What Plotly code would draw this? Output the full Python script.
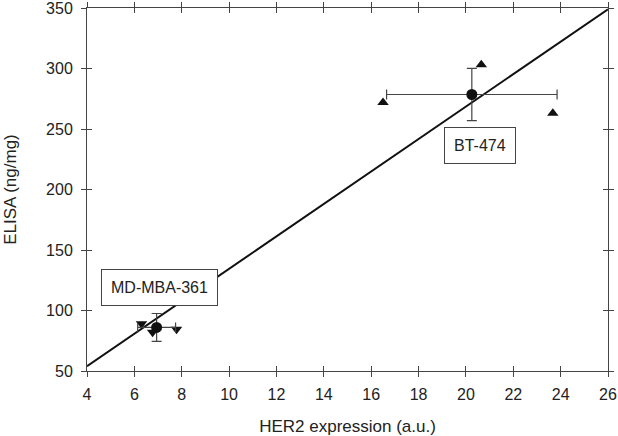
import plotly.graph_objects as go

# Cell line means with error bars
mean_x = [20.25, 6.94]
mean_y = [278.5, 86.0]
err_x = [3.6, 0.8]
err_y = [21.6, 11.5]

# Individual replicates
bt_x = [16.5, 20.65, 23.67]
bt_y = [272, 303, 263]
md_x = [6.30, 6.77, 7.78]
md_y = [89, 82, 84.5]

# Regression line endpoints
fit_x = [4, 26]
fit_y = [54, 349]

labels = ["BT-474", "MD-MBA-361"]
label_x = [20.58, 7.08]
label_y = [236, 119]

x_ticks = list(range(4, 27, 2))
y_ticks = list(range(50, 351, 50))

axcol = "#444444"
txtcol = "#222222"

fig = go.Figure()
fig.add_trace(go.Scatter(x=fit_x, y=fit_y, mode="lines",
                         line=dict(color="#111111", width=2), showlegend=False))
fig.add_trace(go.Scatter(x=bt_x, y=bt_y, mode="markers",
                         marker=dict(symbol="triangle-up", size=10, color="#111111"),
                         showlegend=False))
fig.add_trace(go.Scatter(x=md_x, y=md_y, mode="markers",
                         marker=dict(symbol="triangle-down", size=10, color="#111111"),
                         showlegend=False))
fig.add_trace(go.Scatter(x=mean_x, y=mean_y, mode="markers",
                         marker=dict(symbol="circle", size=11, color="#111111"),
                         error_x=dict(type="data", array=err_x, color=axcol, thickness=1.2, width=5),
                         error_y=dict(type="data", array=err_y, color=axcol, thickness=1.2, width=5),
                         showlegend=False))
# dummy trace on overlay axes
fig.add_trace(go.Scatter(x=[None], y=[None], xaxis="x2", yaxis="y2", showlegend=False))

for t, lx, ly in zip(labels, label_x, label_y):
    fig.add_annotation(x=lx, y=ly, xref="x", yref="y", text=t, showarrow=False,
                       font=dict(size=16, color=txtcol, family="Liberation Sans, Arial"),
                       bgcolor="white", bordercolor=axcol, borderwidth=1, borderpad=9)

common_font = dict(size=16, color=txtcol, family="Liberation Sans, Arial")
fig.update_layout(
    width=618, height=436,
    margin=dict(l=87, r=10, t=8, b=65, autoexpand=False),
    paper_bgcolor="white", plot_bgcolor="white",
    font=common_font,
    xaxis=dict(range=[4, 26], tickvals=x_ticks, ticks="outside", ticklen=5, tickwidth=1,
               tickcolor=axcol, showline=True, linecolor=axcol, linewidth=1, mirror="ticks",
               showgrid=False, zeroline=False, tickfont=common_font, automargin=False,
               ticklabeloverflow="allow", ticklabelstandoff=4,
               title=dict(text="HER2 expression (a.u.)", font=dict(size=17, color=txtcol), standoff=17)),
    yaxis=dict(range=[50, 350], tickvals=y_ticks, ticks="outside", ticklen=5, tickwidth=1,
               tickcolor=axcol, showline=True, linecolor=axcol, linewidth=1, mirror="ticks",
               showgrid=False, zeroline=False, tickfont=common_font, automargin=False,
               ticklabeloverflow="allow", ticklabelstandoff=5,
               title=dict(text="ELISA (ng/mg)", font=dict(size=17, color=txtcol), standoff=25)),
    xaxis2=dict(range=[4, 26], tickvals=x_ticks, ticks="inside", ticklen=5, tickwidth=1,
                tickcolor=axcol, showticklabels=False, showline=False, mirror="ticks",
                showgrid=False, zeroline=False, overlaying="x", automargin=False),
    yaxis2=dict(range=[50, 350], tickvals=y_ticks, ticks="inside", ticklen=5, tickwidth=1,
                tickcolor=axcol, showticklabels=False, showline=False, mirror="ticks",
                showgrid=False, zeroline=False, overlaying="y", automargin=False),
)
fig.write_html("out.html", config={"displayModeBar": False},
               post_script="document.body.style.margin='0';")
